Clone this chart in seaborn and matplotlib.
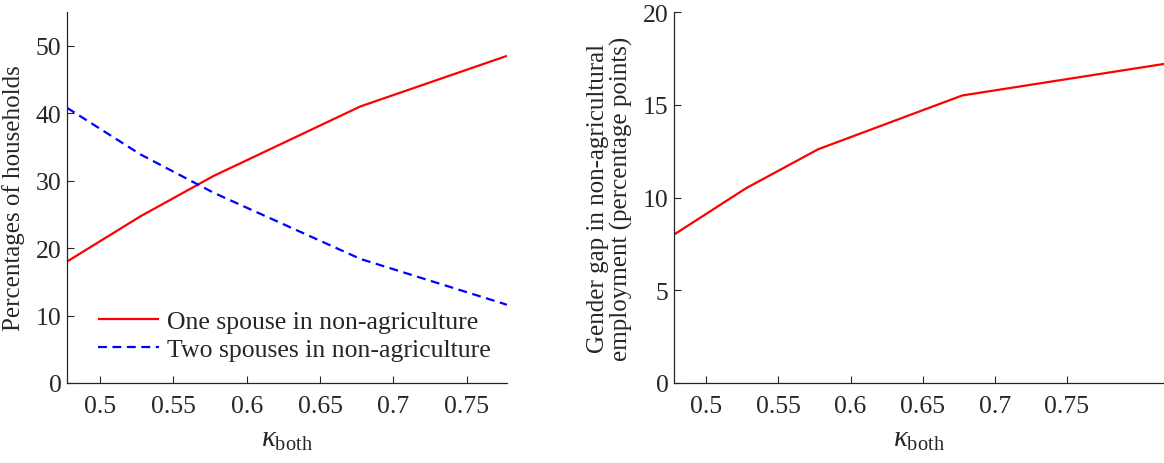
import numpy as np
import pandas as pd
import matplotlib
matplotlib.use("Agg")
import matplotlib.pyplot as plt
import seaborn as sns

# kappa_both grid and model outcomes
kappa = [0.4775, 0.5275, 0.5775, 0.6775, 0.7775]
one_spouse = [18.0, 24.7, 30.7, 41.0, 48.5]
two_spouses = [40.8, 33.9, 28.2, 18.4, 11.6]

kappa_gap = [0.4775, 0.5275, 0.5775, 0.6775, 0.8175]
gender_gap = [8.0, 10.5, 12.6, 15.5, 17.2]

sns.set_style("ticks")
plt.rcParams["font.family"] = ["Liberation Serif", "DejaVu Serif"]
plt.rcParams["mathtext.fontset"] = "custom"
plt.rcParams["mathtext.rm"] = "Liberation Serif"
plt.rcParams["mathtext.it"] = "Liberation Serif:italic"
plt.rcParams["font.size"] = 18.5
ink = "#262626"
plt.rcParams["text.color"] = ink
plt.rcParams["axes.labelcolor"] = ink
plt.rcParams["xtick.color"] = ink
plt.rcParams["ytick.color"] = ink
plt.rcParams["axes.edgecolor"] = ink

df = pd.DataFrame({
    "kappa": kappa * 2,
    "share": one_spouse + two_spouses,
    "series": ["One spouse in non-agriculture"] * len(kappa)
              + ["Two spouses in non-agriculture"] * len(kappa),
})
gap = pd.DataFrame({"kappa": kappa_gap, "gap": gender_gap})

fig = plt.figure(figsize=(11.64, 4.64), dpi=100)
ax1 = fig.add_axes([67 / 1164, 1 - 384 / 464, 440 / 1164, 371 / 464])
ax2 = fig.add_axes([674 / 1164, 1 - 384 / 464, 490 / 1164, 371 / 464])

sns.lineplot(data=df, x="kappa", y="share", hue="series", style="series",
             palette=["#ff0000", "#0000ff"], dashes=[(1, 0), (4, 2.5)],
             linewidth=1.6, ax=ax1)
sns.lineplot(data=gap, x="kappa", y="gap", color="#ff0000", linewidth=1.6, ax=ax2)

ax1.set_xlim(0.4775, 0.7775)
ax1.set_ylim(0, 55)
ax1.set_yticks([0, 10, 20, 30, 40, 50])
ax1.set_ylabel("Percentages of households", fontsize=18)
ax1.yaxis.set_label_coords(-0.095, 0.5)

ax2.set_xlim(0.4775, 0.8175)
ax2.set_ylim(0, 20)
ax2.set_yticks([0, 5, 10, 15, 20])
ax2.set_ylabel("Gender gap in non-agricultural\nemployment (percentage points)",
               fontsize=18, linespacing=1.05)
ax2.yaxis.set_label_coords(-0.084, 0.5)

for ax in (ax1, ax2):
    ax.set_xticks([0.5, 0.55, 0.6, 0.65, 0.7, 0.75])
    ax.set_xticklabels(["0.5", "0.55", "0.6", "0.65", "0.7", "0.75"])
    ax.set_xlabel(r"$\kappa_{\rm both}$", fontsize=21, labelpad=6)
    ax.tick_params(direction="in", length=5, width=0.8)
    ax.tick_params(axis="x", pad=9)
    ax.tick_params(axis="y", pad=4)
    for s in ("top", "right"):
        ax.spines[s].set_visible(False)
    ax.spines["left"].set_linewidth(0.9)
    ax.spines["bottom"].set_linewidth(0.9)

leg = ax1.legend(loc="lower left", bbox_to_anchor=(0.07, 0.06), frameon=False,
                 handlelength=2.4, handletextpad=0.3, labelspacing=0.2,
                 borderpad=0, borderaxespad=0, fontsize=18.5)

fig.savefig("out.png", dpi=100)
